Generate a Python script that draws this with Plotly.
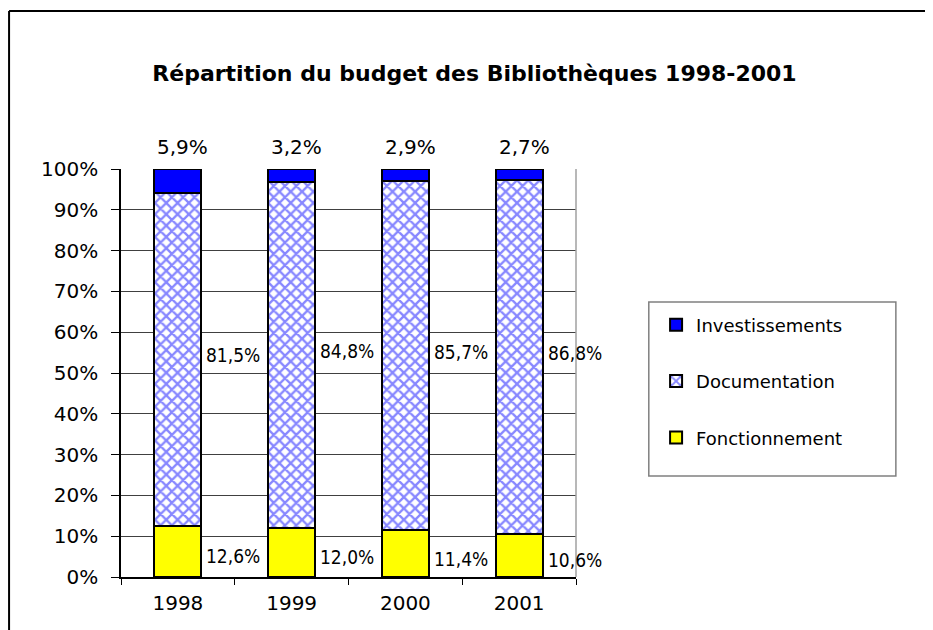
import plotly.graph_objects as go

years = ["1998", "1999", "2000", "2001"]
fonctionnement = [12.6, 12.0, 11.4, 10.6]
documentation = [81.5, 84.8, 85.7, 86.8]
investissements = [5.9, 3.2, 2.9, 2.7]
fonct_labels = ["12,6%", "12,0%", "11,4%", "10,6%"]
doc_labels = ["81,5%", "84,8%", "85,7%", "86,8%"]
inv_labels = ["5,9%", "3,2%", "2,9%", "2,7%"]
y_ticks = [0, 10, 20, 30, 40, 50, 60, 70, 80, 90, 100]
y_ticklabels = [f"{v}%" for v in y_ticks]

xpos = list(range(len(years)))
boundaries = [i - 0.5 for i in range(len(years) + 1)]

FONT = "DejaVu Sans, Arial, sans-serif"
NARROW = "DejaVu Sans Condensed, Liberation Sans Narrow, DejaVu Sans, sans-serif"
line = dict(color="black", width=2)
BW = 0.415

fig = go.Figure()
fig.add_bar(x=xpos, y=fonctionnement, name="Fonctionnement", legendgroup="c",
            legendrank=3, width=BW,
            marker=dict(color="#ffff00", line=line))
fig.add_bar(x=xpos, y=documentation, name="Documentation", legendgroup="b",
            legendrank=2, width=BW,
            marker=dict(color="white", line=line,
                        pattern=dict(shape="x", fgcolor="#1010ff",
                                     size=8, solidity=0.5)))
fig.add_bar(x=xpos, y=investissements, name="Investissements", legendgroup="a",
            legendrank=1, width=BW,
            marker=dict(color="#0000ff", line=line))

ann = []
for i in xpos:
    ann.append(dict(x=i + BW / 2, y=fonctionnement[i] / 2 - 1.2, text=fonct_labels[i],
                    xref="x", yref="y", showarrow=False, xanchor="left", xshift=3,
                    font=dict(family=NARROW, size=19, color="black")))
    ann.append(dict(x=i + BW / 2, y=fonctionnement[i] + documentation[i] / 2 + 1.0,
                    text=doc_labels[i], xref="x", yref="y", showarrow=False,
                    xanchor="left", xshift=3,
                    font=dict(family=NARROW, size=19, color="black")))
    top = min(fonctionnement[i] + documentation[i] + investissements[i], 100)
    ann.append(dict(x=i, y=top, text=inv_labels[i], xref="x", yref="y", showarrow=False,
                    yanchor="bottom", yshift=8, xshift=5,
                    font=dict(family=FONT, size=20, color="black")))

shapes = [
    # outer frame (left and top edges)
    dict(type="line", xref="paper", yref="paper", x0=-0.246, x1=1.8, y0=1.387, y1=1.387,
         line=dict(color="black", width=2)),
    dict(type="line", xref="paper", yref="paper", x0=-0.246, x1=-0.246, y0=1.387, y1=-0.2,
         line=dict(color="black", width=2)),
    # plot area right border
    dict(type="line", xref="paper", yref="paper", x0=1, x1=1, y0=0, y1=1,
         line=dict(color="#a0a0a0", width=1.5)),
    # legend box
    dict(type="rect", xref="paper", yref="paper", x0=1.16, x1=1.703, y0=0.2475, y1=0.674,
         line=dict(color="#808080", width=1.5), fillcolor="rgba(0,0,0,0)"),
]

fig.update_layout(
    width=933, height=630,
    margin=dict(l=113, r=365, t=161, b=61),
    paper_bgcolor="white", plot_bgcolor="white",
    barmode="stack",
    font=dict(family=FONT, size=20, color="black"),
    title=dict(text="<b>Répartition du budget des Bibliothèques 1998-2001</b>",
               x=0.5, xanchor="center", y=0.897, yanchor="middle",
               font=dict(family=FONT, size=22, color="black")),
    legend=dict(x=1.176, xanchor="left", y=0.663, yanchor="top",
                traceorder="grouped", borderwidth=0,
                bgcolor="rgba(0,0,0,0)",
                font=dict(family=FONT, size=18, color="black"),
                tracegroupgap=30, itemwidth=30),
    annotations=ann, shapes=shapes,
    xaxis=dict(range=[-0.5, len(years) - 0.5], tickvals=xpos, ticktext=years,
               showline=True, linecolor="black", linewidth=1.5,
               ticks="", showgrid=False, zeroline=False, automargin=False,
               ticklabelstandoff=7,
               minor=dict(tickvals=boundaries, ticks="outside", ticklen=6,
                          tickcolor="black", showgrid=False),
               tickfont=dict(size=20)),
    yaxis=dict(range=[0, 100], tickvals=y_ticks, ticktext=y_ticklabels,
               showline=True, linecolor="black", linewidth=1.5,
               ticks="outside", ticklen=8, tickcolor="black",
               ticklabelstandoff=9,
               showgrid=True, gridcolor="#404040", gridwidth=1,
               tickfont=dict(size=20), zeroline=False, automargin=False),
)

fig.write_html("out.html")
